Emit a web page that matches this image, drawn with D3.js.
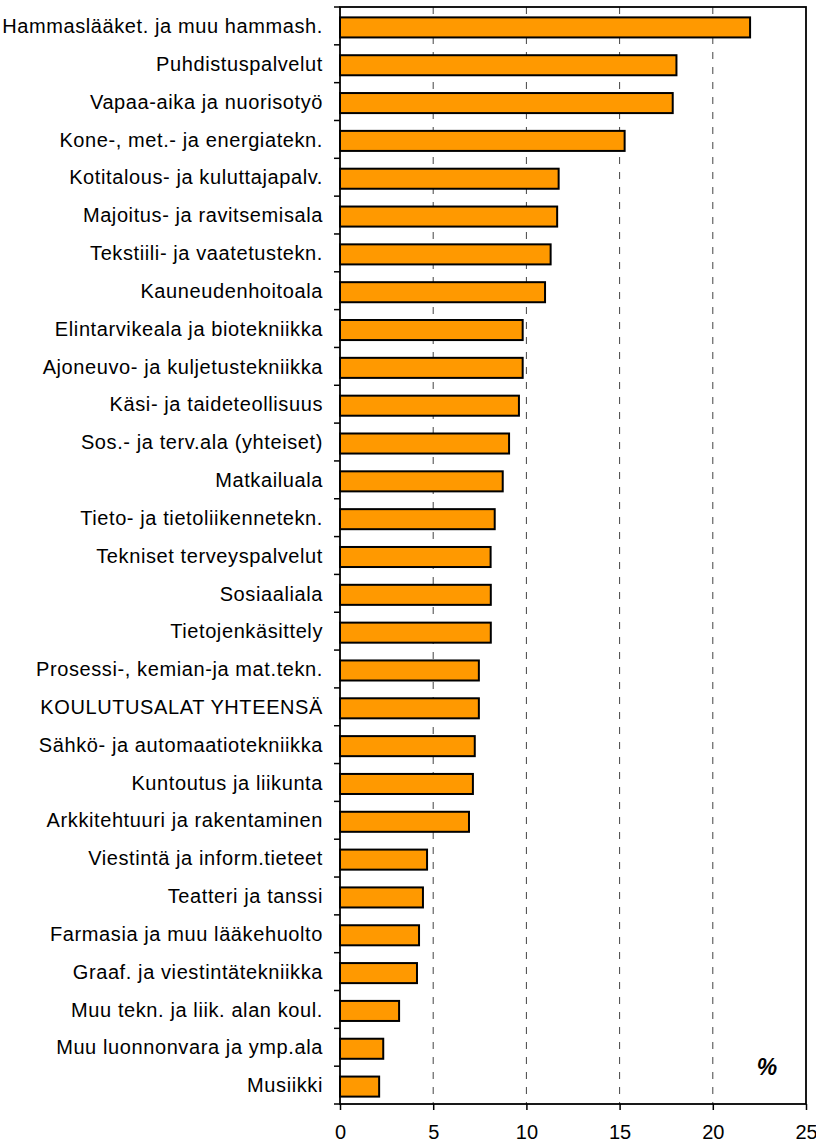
<!DOCTYPE html>
<html>
<head>
<meta charset="utf-8">
<script src="https://cdn.jsdelivr.net/npm/d3@7"></script>
<style>
  html, body { margin: 0; padding: 0; background: #fff; }
  svg { display: block; }
</style>
</head>
<body>
<div id="chart"></div>
<script>
const categories = [
  "Hammaslääket. ja muu hammash.",
  "Puhdistuspalvelut",
  "Vapaa-aika ja nuorisotyö",
  "Kone-, met.- ja energiatekn.",
  "Kotitalous- ja kuluttajapalv.",
  "Majoitus- ja ravitsemisala",
  "Tekstiili- ja vaatetustekn.",
  "Kauneudenhoitoala",
  "Elintarvikeala ja biotekniikka",
  "Ajoneuvo- ja kuljetustekniikka",
  "Käsi- ja taideteollisuus",
  "Sos.- ja terv.ala (yhteiset)",
  "Matkailuala",
  "Tieto- ja tietoliikennetekn.",
  "Tekniset terveyspalvelut",
  "Sosiaaliala",
  "Tietojenkäsittely",
  "Prosessi-, kemian-ja mat.tekn.",
  "KOULUTUSALAT YHTEENSÄ",
  "Sähkö- ja automaatiotekniikka",
  "Kuntoutus ja liikunta",
  "Arkkitehtuuri ja rakentaminen",
  "Viestintä ja inform.tieteet",
  "Teatteri ja tanssi",
  "Farmasia ja muu lääkehuolto",
  "Graaf. ja viestintätekniikka",
  "Muu tekn. ja liik. alan koul.",
  "Muu luonnonvara ja ymp.ala",
  "Musiikki"
];
const values = [
  22.0, 18.05, 17.85, 15.27, 11.73, 11.65, 11.3, 11.0, 9.8, 9.8,
  9.6, 9.07, 8.73, 8.3, 8.08, 8.09, 8.09, 7.45, 7.45, 7.23,
  7.13, 6.92, 4.67, 4.45, 4.24, 4.13, 3.17, 2.32, 2.1
];
const xTicks = [0, 5, 10, 15, 20, 25];
const gridTicks = [5, 10, 15, 20];
const unitLabel = "%";

const W = 816, H = 1145;
const margin = { top: 7, right: 10, bottom: 41, left: 340 };
const pw = W - margin.left - margin.right;
const ph = H - margin.top - margin.bottom;

const svg = d3.select("#chart").append("svg")
  .attr("width", W).attr("height", H);
const g = svg.append("g").attr("transform", `translate(${margin.left},${margin.top})`);

const x = d3.scaleLinear().domain([0, 25]).range([0, pw]);
const y = d3.scaleBand().domain(categories).range([0, ph]).paddingInner(0.47).paddingOuter(0.235);
const yb = d3.scaleBand().domain(categories).range([0, ph]);

const font = "'Liberation Sans', Arial, sans-serif";

// gridlines
g.append("g").selectAll("line").data(gridTicks).join("line")
  .attr("x1", d => x(d)).attr("x2", d => x(d))
  .attr("y1", 0).attr("y2", ph)
  .attr("stroke", "#444").attr("stroke-width", 1)
  .attr("stroke-dasharray", "7,8");

// bars
g.append("g").selectAll("rect").data(values).join("rect")
  .attr("x", x(0))
  .attr("y", (d, i) => y(categories[i]) + 1.5)
  .attr("width", d => x(d) - x(0))
  .attr("height", y.bandwidth())
  .attr("fill", "#FF9900")
  .attr("stroke", "#000").attr("stroke-width", 2);

// frame
g.append("rect").attr("x", 0).attr("y", 0).attr("width", pw).attr("height", ph)
  .attr("fill", "none").attr("stroke", "#000").attr("stroke-width", 1.8);

// y axis ticks at band boundaries
const bounds = categories.map(c => yb(c)).concat([ph]);
g.append("g").selectAll("line").data(bounds).join("line")
  .attr("x1", -6).attr("x2", 0)
  .attr("y1", d => d).attr("y2", d => d)
  .attr("stroke", "#000").attr("stroke-width", 1.5);

// y labels
g.append("g").selectAll("text").data(categories).join("text")
  .attr("x", -17)
  .attr("y", d => yb(d) + yb.bandwidth() / 2)
  .attr("dy", "0.36em")
  .attr("text-anchor", "end")
  .attr("font-family", font)
  .attr("font-size", 20)
  .attr("letter-spacing", "0.6px")
  .attr("fill", "#000")
  .text(d => d);

// x axis
const xAxis = d3.axisBottom(x).tickValues(xTicks).tickSize(6).tickPadding(15).tickFormat(d3.format("d"));
const xa = g.append("g").attr("transform", `translate(0,${ph})`).call(xAxis);
xa.select(".domain").remove();
xa.selectAll(".tick line").attr("stroke", "#000").attr("stroke-width", 1.5);
xa.selectAll(".tick text").attr("font-family", font).attr("font-size", 20).attr("fill", "#000");

// unit label
g.append("text")
  .attr("x", x(22.9)).attr("y", ph - 29)
  .attr("text-anchor", "middle")
  .attr("font-family", font).attr("font-size", 23)
  .attr("font-weight", "bold").attr("font-style", "italic")
  .text(unitLabel);
</script>
</body>
</html>
